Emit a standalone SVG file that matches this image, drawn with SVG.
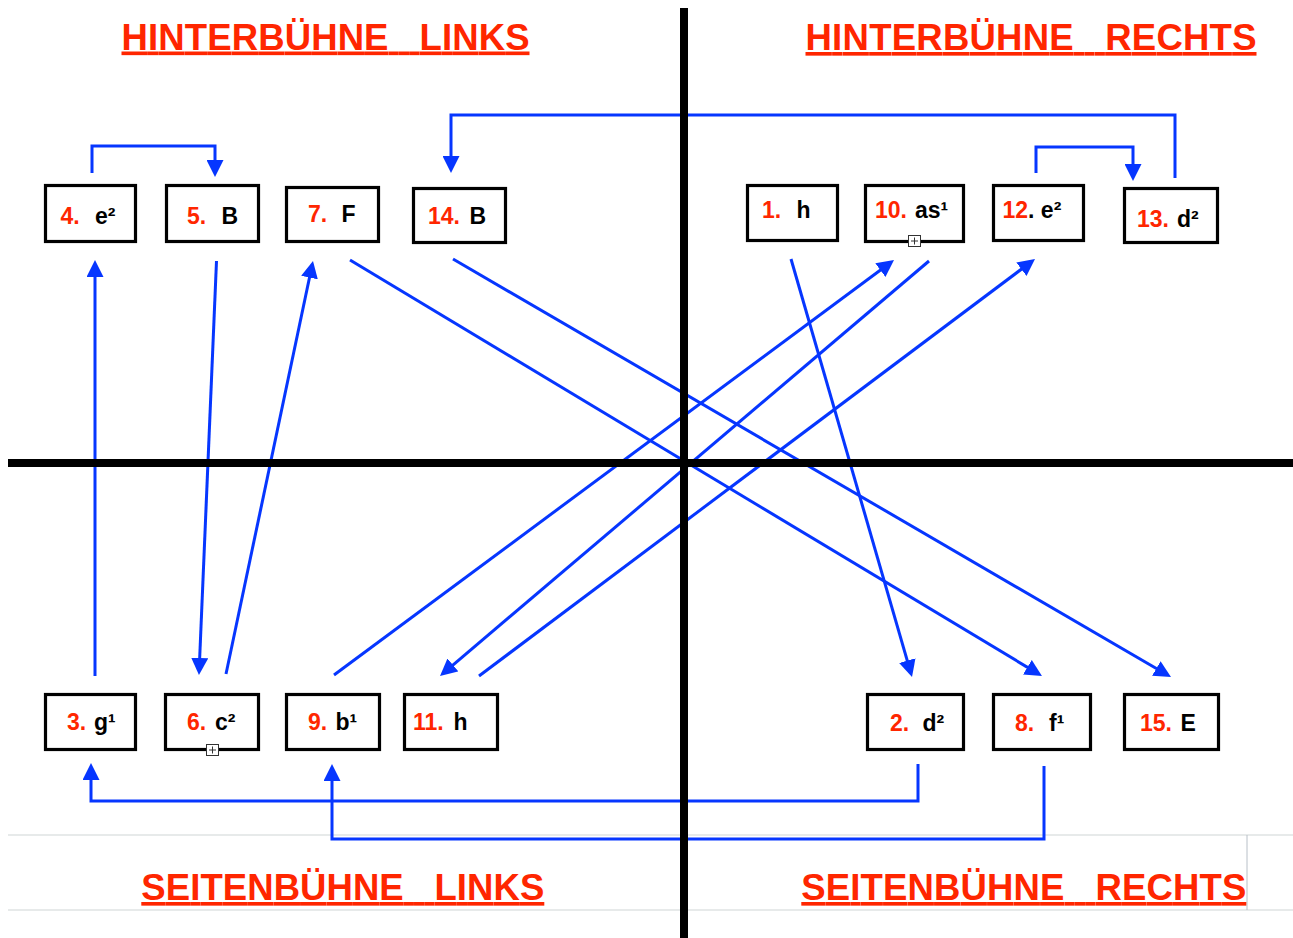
<svg xmlns="http://www.w3.org/2000/svg" width="1293" height="938" viewBox="0 0 1293 938">
<style>
.box{fill:#fff;stroke:#000;stroke-width:3.2}
.num{fill:#ff2600;font-family:"Liberation Sans",Arial,sans-serif;font-weight:bold;font-size:23px}
.val{fill:#000}
.title{fill:#ff2600;font-family:"Liberation Sans",Arial,sans-serif;font-weight:bold;font-size:36.5px;text-decoration:underline;white-space:pre}
.con{fill:none;stroke:#0636ff;stroke-width:3;marker-end:url(#arr)}
.axis{stroke:#000;stroke-width:8}
.grid{stroke:#dfe3e3;stroke-width:1.5}
.tog{fill:#fff;stroke:#333;stroke-width:1}
</style>
<defs>
<marker id="arr" markerUnits="userSpaceOnUse" markerWidth="17" markerHeight="17" refX="9" refY="8.5" orient="auto">
<path d="M0,0 L17,8.5 L0,17 z" fill="#0636ff"/>
</marker>
</defs>
<rect width="1293" height="938" fill="#fff"/>
<g id="grid">
<line class="grid" x1="8" y1="835" x2="1293" y2="835"/>
<line class="grid" x1="8" y1="910" x2="1293" y2="910"/>
<line x1="1247" y1="835" x2="1247" y2="910" stroke="#b8c0c8" stroke-width="1"/>
</g>
<g id="titles">
<text class="title" x="121.5" y="49.5" textLength="408" lengthAdjust="spacing">HINTERBÜHNE   LINKS</text>
<text class="title" x="805.5" y="50" textLength="451" lengthAdjust="spacing">HINTERBÜHNE   RECHTS</text>
<text class="title" x="141.3" y="900" textLength="403" lengthAdjust="spacing">SEITENBÜHNE   LINKS</text>
<text class="title" x="801.3" y="900" textLength="445" lengthAdjust="spacing">SEITENBÜHNE   RECHTS</text>
</g>
<g id="connectors">
<path class="con" d="M92,173 V146 H215 V169"/>
<path class="con" d="M1175,178 V115 H451 V165"/>
<path class="con" d="M1036,173 V147 H1133 V173"/>
<path class="con" d="M918,764 V801 H91 V771"/>
<path class="con" d="M1044,766 V839 H332 V772"/>
<line class="con" x1="95" y1="676" x2="95" y2="268"/>
<line class="con" x1="216.5" y1="261" x2="199.3" y2="667"/>
<line class="con" x1="226" y1="674" x2="311.35" y2="268.8"/>
<line class="con" x1="350" y1="260" x2="1035.1" y2="671.9"/>
<line class="con" x1="453" y1="259" x2="1164.1" y2="673"/>
<line class="con" x1="791" y1="259" x2="909.8" y2="669.3"/>
<line class="con" x1="334" y1="675" x2="887.6" y2="264.8"/>
<line class="con" x1="929" y1="261" x2="446.1" y2="670.8"/>
<line class="con" x1="479" y1="676" x2="1028.6" y2="263.8"/>
</g>
<g id="axes">
<line class="axis" x1="684" y1="8" x2="684" y2="938"/>
<line class="axis" x1="8" y1="463" x2="1293" y2="463"/>
</g>
<g id="n4"><rect class="box" x="45.5" y="185.5" width="90" height="56"/><text class="num" y="224"><tspan x="60.5">4.</tspan><tspan class="val" x="95">e²</tspan></text></g>
<g id="n5"><rect class="box" x="166.5" y="185.5" width="92" height="56"/><text class="num" y="224"><tspan x="187">5.</tspan><tspan class="val" x="221.5">B</tspan></text></g>
<g id="n7"><rect class="box" x="286.5" y="187.5" width="92" height="54"/><text class="num" y="222"><tspan x="308">7.</tspan><tspan class="val" x="341.5">F</tspan></text></g>
<g id="n14"><rect class="box" x="413.5" y="188.5" width="92" height="54"/><text class="num" y="224"><tspan x="428">14.</tspan><tspan class="val" x="469.5">B</tspan></text></g>
<g id="n1"><rect class="box" x="747.5" y="185.5" width="90" height="55"/><text class="num" y="218"><tspan x="762">1.</tspan><tspan class="val" x="796.5">h</tspan></text></g>
<g id="n10"><rect class="box" x="865.5" y="185.5" width="98" height="56"/><text class="num" y="218"><tspan x="875">10.</tspan><tspan class="val" x="915">as¹</tspan></text>
<rect class="tog" x="908.5" y="235.5" width="12" height="11"/><path d="M914.5,237.5 V244.5 M911,241 H918" stroke="#333" stroke-width="1"/></g>
<g id="n12"><rect class="box" x="993.5" y="185.5" width="90" height="55"/><text class="num" y="218"><tspan x="1002.5">12</tspan><tspan class="val">. e²</tspan></text></g>
<g id="n13"><rect class="box" x="1124.5" y="188.5" width="93" height="54"/><text class="num" y="227"><tspan x="1137">13.</tspan><tspan class="val" x="1177">d²</tspan></text></g>
<g id="n3"><rect class="box" x="45.5" y="694.5" width="90" height="55"/><text class="num" y="730"><tspan x="67">3.</tspan><tspan class="val" x="94">g¹</tspan></text></g>
<g id="n6"><rect class="box" x="165.5" y="694.5" width="93" height="55"/><text class="num" y="730"><tspan x="187">6.</tspan><tspan class="val" x="215">c²</tspan></text>
<rect class="tog" x="206.5" y="744.5" width="12" height="11"/><path d="M212.5,746.5 V753.5 M209,750 H216" stroke="#333" stroke-width="1"/></g>
<g id="n9"><rect class="box" x="286.5" y="694.5" width="93" height="55"/><text class="num" y="730"><tspan x="308">9.</tspan><tspan class="val" x="335.5">b¹</tspan></text></g>
<g id="n11"><rect class="box" x="404.5" y="694.5" width="93" height="55"/><text class="num" y="730"><tspan x="413">11.</tspan><tspan class="val" x="453.5">h</tspan></text></g>
<g id="n2"><rect class="box" x="867.5" y="694.5" width="96" height="55"/><text class="num" y="731"><tspan x="890">2.</tspan><tspan class="val" x="922.5">d²</tspan></text></g>
<g id="n8"><rect class="box" x="993.5" y="694.5" width="97" height="55"/><text class="num" y="731"><tspan x="1015">8.</tspan><tspan class="val" x="1049">f¹</tspan></text></g>
<g id="n15"><rect class="box" x="1124.5" y="694.5" width="94" height="55"/><text class="num" y="731"><tspan x="1140">15.</tspan><tspan class="val" x="1180.5">E</tspan></text></g>
</svg>
